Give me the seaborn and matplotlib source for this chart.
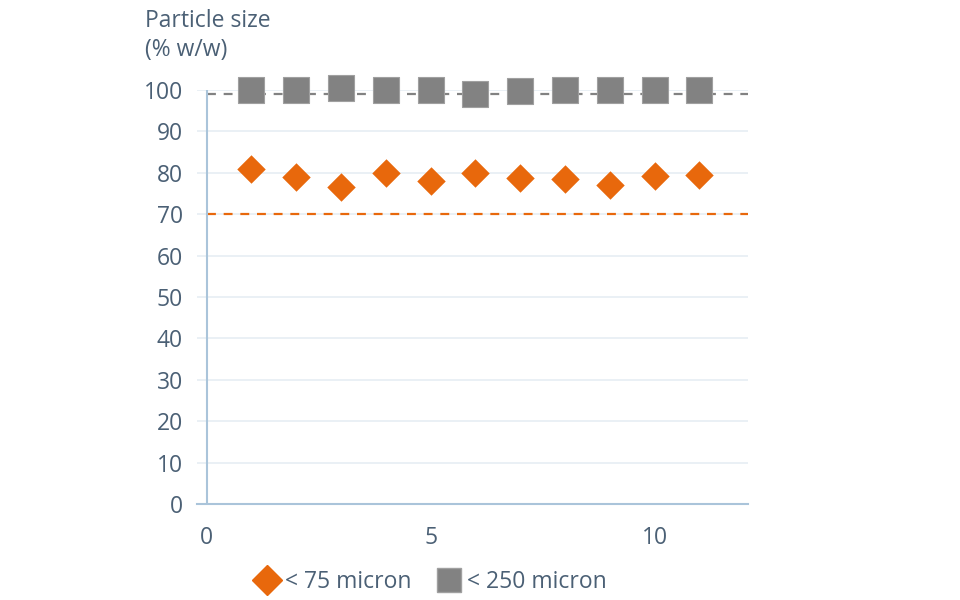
import matplotlib
matplotlib.use("Agg")
import matplotlib.pyplot as plt
import seaborn as sns
import pandas as pd
from matplotlib.lines import Line2D

sample = [1, 2, 3, 4, 5, 6, 7, 8, 9, 10, 11]
under_75 = [80.9, 78.9, 76.6, 79.9, 78.1, 79.9, 78.8, 78.4, 77.0, 79.3, 79.4]
under_250 = [99.9, 99.9, 100.4, 100.0, 100.1, 99.0, 99.7, 99.9, 99.9, 99.9, 99.9]
series_names = ["< 75 micron", "< 250 micron"]
limit_75 = 70
limit_250 = 99
y_ticks = [0, 10, 20, 30, 40, 50, 60, 70, 80, 90, 100]
x_ticks = [0, 5, 10]
y_title = "Particle size\n(% w/w)"

sns.set_theme(style="white")
plt.rcParams["font.family"] = ["Open Sans", "DejaVu Sans"]

TEXT = "#4b6075"
ORANGE = "#e8680c"
GRAY = "#828282"
GRID = "#e6edf4"
SPINE = "#aac4da"
FS = 16.5

df = pd.DataFrame({
    "x": sample * 2,
    "y": under_75 + under_250,
    "series": [series_names[0]] * len(sample) + [series_names[1]] * len(sample),
})

fig = plt.figure(figsize=(9.6, 6), dpi=100)
ax = fig.add_axes([0.205, 0.16, 0.574, 0.69])

for v in y_ticks[1:]:
    ax.axhline(v, color=GRID, lw=1.2, zorder=0)

ax.hlines(limit_75, 0, 12.08, colors=ORANGE, linestyles=(0, (4, 3.5)), lw=1.6, zorder=1)
ax.hlines(limit_250, 0, 12.08, colors=GRAY, linestyles=(0, (4, 3.5)), lw=1.6, zorder=1)
ax.axvline(0, ymin=0, ymax=1, color=SPINE, lw=1.5, zorder=1)

sns.scatterplot(data=df[df.series == series_names[0]], x="x", y="y", marker="D",
                color=ORANGE, s=210, linewidth=0, ax=ax, zorder=3, clip_on=False, legend=False)
sns.scatterplot(data=df[df.series == series_names[1]], x="x", y="y", marker="s",
                color=GRAY, s=330, linewidth=0.8, edgecolor="#a0a0a0", ax=ax, zorder=3,
                clip_on=False, legend=False)

ax.set_xlim(-0.22, 12.08)
ax.set_ylim(0, 100)
ax.set_yticks(y_ticks)
ax.set_xticks(x_ticks)
ax.set_xlabel("")
ax.set_ylabel("")

for s in ["top", "right", "left"]:
    ax.spines[s].set_visible(False)
ax.spines["bottom"].set_color(SPINE)
ax.spines["bottom"].set_linewidth(1.5)

ax.tick_params(axis="y", length=0, pad=10, labelsize=FS, labelcolor=TEXT)
ax.tick_params(axis="x", direction="inout", length=10, width=1.2, color=SPINE,
               pad=11, labelsize=FS, labelcolor=TEXT)

fig.text(145 / 960, 1 - 9 / 600, y_title, ha="left", va="top", fontsize=FS,
         color=TEXT, linespacing=1.3)

handles = [
    Line2D([], [], marker="D", color=ORANGE, linestyle="", markersize=15),
    Line2D([], [], marker="s", color=GRAY, linestyle="", markersize=17,
           markeredgecolor="#a0a0a0"),
]
fig.legend(handles, series_names, loc="center", bbox_to_anchor=(0.448, 0.03),
           ncol=2, frameon=False, fontsize=FS, labelcolor=TEXT, handletextpad=0.2,
           columnspacing=1.0, handlelength=1.2)

fig.savefig("out.png", dpi=100)
